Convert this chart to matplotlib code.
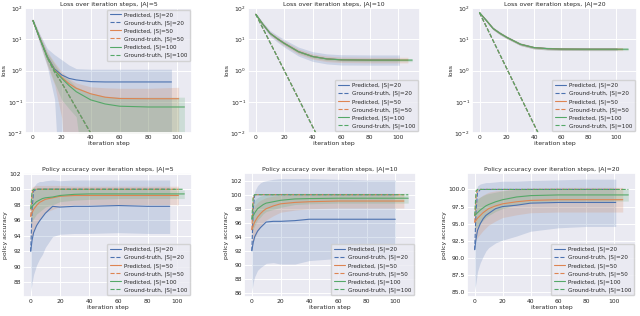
import numpy as np
import matplotlib
matplotlib.use('Agg')
import matplotlib.pyplot as plt
from matplotlib.ticker import MultipleLocator
import seaborn as sns

# ---- loss panels ----
sizes = ["20", "50", "100"]
actions = ["5", "10", "20"]

# |A|=5
loss5_x = {"20": [0, 5, 10, 15, 20, 25, 30, 40, 50, 60, 80, 96],
           "50": [0, 5, 10, 15, 20, 25, 30, 40, 50, 60, 80, 101],
           "100": [0, 5, 10, 15, 20, 25, 30, 40, 50, 60, 80, 105]}
loss5_mean = {"20": [40, 10, 2.8, 1.12, 0.72, 0.56, 0.5, 0.44, 0.43, 0.43, 0.43, 0.43],
              "50": [40, 10, 2.7, 1.05, 0.6, 0.38, 0.27, 0.18, 0.14, 0.127, 0.125, 0.125],
              "100": [40, 10, 2.6, 1.0, 0.56, 0.33, 0.21, 0.115, 0.085, 0.072, 0.068, 0.068]}
loss5_hi = {"20": [45, 14, 5, 3.2, 2.2, 1.5, 1.15, 1.1, 1.1, 1.1, 1.1, 1.1],
            "50": [45, 13, 4, 1.8, 0.9, 0.55, 0.4, 0.3, 0.28, 0.27, 0.27, 0.29],
            "100": [44, 12, 3.6, 1.6, 0.72, 0.5, 0.3, 0.19, 0.15, 0.14, 0.14, 0.14]}
loss5_lo = {"20": [35, 6.5, 1.3, 0.12, 1e-5, 1e-5, 1e-5, 1e-5, 1e-5, 1e-5, 1e-5, 1e-5],
            "50": [35, 7, 1.4, 0.35, 0.03, 1e-5, 1e-5, 1e-5, 1e-5, 1e-5, 1e-5, 1e-5],
            "100": [36, 8, 1.6, 0.4, 0.115, 0.06, 0.033, 1e-5, 1e-5, 1e-5, 1e-5, 1e-5]}
gt5_x = [0, 5, 10, 15, 20, 30, 40, 50]
gt5 = [40, 10, 2.6, 0.9, 0.4, 0.063, 0.01, 0.0016]

# |A|=10
loss10_x = {"20": [0, 5, 10, 15, 20, 30, 40, 50, 60, 80, 101],
            "50": [0, 5, 10, 15, 20, 30, 40, 50, 60, 80, 107],
            "100": [0, 5, 10, 15, 20, 30, 40, 50, 60, 80, 110]}
loss10_mean = [63, 30, 15.5, 10.5, 7.4, 4.0, 2.8, 2.35, 2.2, 2.15, 2.15]
loss10_hi = {"20": [66, 35, 19, 13.5, 9.8, 5.6, 4.0, 3.4, 3.2, 3.15, 3.15],
             "50": [65, 33, 17.5, 12.3, 8.8, 4.9, 3.4, 2.9, 2.7, 2.65, 2.65],
             "100": [64, 31.5, 16.6, 11.5, 8.1, 4.45, 3.1, 2.6, 2.45, 2.4, 2.4]}
loss10_lo = {"20": [60, 25.5, 12.5, 8.2, 5.6, 2.9, 1.95, 1.62, 1.5, 1.48, 1.48],
             "50": [61, 27, 13.5, 9.0, 6.2, 3.3, 2.3, 1.92, 1.8, 1.75, 1.75],
             "100": [62, 28.5, 14.3, 9.6, 6.7, 3.6, 2.5, 2.1, 1.97, 1.92, 1.92]}
gt10_x = [0, 10, 20, 30, 40, 50]
gt10 = [63, 7.9, 1.0, 0.126, 0.0158, 0.002]

# |A|=20
loss20_x = {"20": [0, 5, 10, 15, 20, 30, 40, 50, 60, 80, 101],
            "50": [0, 5, 10, 15, 20, 30, 40, 50, 60, 80, 105],
            "100": [0, 5, 10, 15, 20, 30, 40, 50, 60, 80, 109]}
loss20_mean = [71, 40, 22, 15.5, 11.5, 6.9, 5.4, 5.0, 4.85, 4.8, 4.8]
loss20_hi = [74, 43, 24, 17, 12.6, 7.6, 5.9, 5.5, 5.3, 5.25, 5.25]
loss20_lo = [68, 37, 20, 14, 10.5, 6.3, 4.9, 4.55, 4.4, 4.35, 4.35]
gt20_x = [0, 10, 20, 30, 40, 50]
gt20 = [71, 9.0, 1.15, 0.146, 0.0186, 0.0024]

# ---- accuracy panels ----
acc_grid = [0, 1, 2, 4, 6, 8, 10, 15, 20, 30, 40, 60, 80]
acc_end = {"5": {"20": 95, "50": 101, "100": 105},
           "10": {"20": 100, "50": 106, "100": 109},
           "20": {"20": 101, "50": 106, "100": 110}}
acc_mean = {
    "5": {"20": [92, 93.5, 94.4, 95.3, 95.9, 96.4, 96.9, 97.8, 97.7, 97.8, 97.8, 97.9, 97.8, 97.8],
          "50": [96.5, 97, 97.4, 97.9, 98.3, 98.5, 98.7, 98.9, 99.1, 99.2, 99.2, 99.2, 99.2, 99.2],
          "100": [97.5, 97.8, 98.0, 98.4, 98.6, 98.8, 98.9, 99.0, 99.2, 99.35, 99.4, 99.4, 99.4, 99.4]},
    "10": {"20": [92, 93.2, 94, 94.8, 95.3, 95.7, 96.1, 96.2, 96.2, 96.3, 96.5, 96.5, 96.5, 96.5],
           "50": [95, 95.6, 96.1, 96.8, 97.3, 97.7, 98.0, 98.4, 98.7, 98.9, 99.0, 99.1, 99.1, 99.1],
           "100": [96.5, 97, 97.4, 98, 98.3, 98.6, 98.8, 99.0, 99.2, 99.4, 99.45, 99.5, 99.5, 99.5]},
    "20": {"20": [91.2, 92.8, 94, 95, 95.7, 96.2, 96.5, 97.2, 97.5, 97.7, 98.0, 98.1, 98.1, 98.1],
           "50": [95.2, 95.5, 95.8, 96.2, 96.6, 96.9, 97.2, 97.6, 97.9, 98.2, 98.4, 98.5, 98.5, 98.5],
           "100": [96.2, 96.4, 96.6, 97, 97.3, 97.6, 97.8, 98.2, 98.5, 98.9, 99.1, 99.2, 99.2, 99.2]}}
acc_hi = {
    "5": {"20": [97.5, 99, 100.3, 100.8, 101, 101, 101.1, 101.2, 101.1, 101.2, 101.2, 101.2, 101.2, 101.2],
          "50": [100, 100.3, 100.4, 100.5, 100.5, 100.5, 100.5, 100.5, 100.5, 100.4, 100.4, 100.4, 100.4, 100.4],
          "100": [99.5, 99.8, 100, 100.1, 100.2, 100.2, 100.2, 100.2, 100.2, 100.1, 100, 100, 100, 99.9]},
    "10": {"20": [97.5, 99.5, 100.5, 101.3, 101.7, 101.9, 102, 102.2, 102.3, 102.3, 102.3, 102.2, 102.1, 102.1],
           "50": [97.5, 98.0, 98.4, 98.9, 99.2, 99.4, 99.6, 99.8, 99.9, 100, 100, 100.1, 100.1, 100.1],
           "100": [98.5, 98.9, 99.2, 99.6, 99.8, 99.9, 100, 100.1, 100.2, 100.2, 100.2, 100.2, 100.2, 100.2]},
    "20": {"20": [97, 99.5, 100.5, 100.8, 100.9, 101, 101, 101.1, 101.2, 101.2, 101.3, 101.4, 101.5, 101.5],
           "50": [98, 98.3, 98.6, 98.9, 99.2, 99.4, 99.6, 99.8, 99.9, 100.1, 100.2, 100.3, 100.3, 100.3],
           "100": [98.2, 98.4, 98.6, 98.9, 99.1, 99.3, 99.4, 99.6, 99.8, 100, 100.1, 100.1, 100.1, 100.1]}}
acc_lo = {
    "5": {"20": [86.8, 88, 89, 90.2, 91, 91.6, 92.5, 93.9, 94.2, 94.3, 94.3, 94.4, 94.3, 94.3],
          "50": [93, 93.8, 94.5, 95.4, 96.1, 96.6, 97, 97.4, 97.8, 98, 98, 98, 98, 98],
          "100": [95.5, 95.9, 96.2, 96.8, 97.1, 97.4, 97.7, 98.0, 98.4, 98.6, 98.7, 98.8, 98.8, 98.8]},
    "10": {"20": [86.2, 87.5, 88.3, 89.2, 89.6, 89.9, 90.2, 90.3, 90.1, 90.1, 90.6, 90.9, 91, 91],
           "50": [92.5, 93.2, 93.8, 94.7, 95.4, 96, 96.4, 97, 97.5, 97.8, 98, 98.1, 98.1, 98.1],
           "100": [94.5, 95.1, 95.6, 96.4, 96.8, 97.3, 97.6, 97.9, 98.2, 98.6, 98.7, 98.8, 98.8, 98.8]},
    "20": {"20": [85.3, 86.5, 88, 89.3, 90.2, 91, 91.5, 92.2, 92.6, 93.2, 93.9, 94.4, 94.6, 94.6],
           "50": [92.4, 92.7, 93, 93.5, 94, 94.4, 94.8, 95.4, 95.9, 96.3, 96.6, 96.7, 96.7, 96.7],
           "100": [94.2, 94.4, 94.6, 95.1, 95.5, 95.9, 96.2, 96.8, 97.2, 97.8, 98.1, 98.3, 98.3, 98.3]}}
gt_acc_x = [0, 1, 2, 4]
gt_acc = {"5": {"20": [92, 97.5, 99.8, 100], "50": [96.5, 99.5, 100, 100], "100": [97.5, 99.8, 100, 100]},
          "10": {"20": [92, 98, 100, 100], "50": [95, 99.5, 100, 100], "100": [96.5, 99.8, 100, 100]},
          "20": {"20": [91.2, 97, 99.5, 100], "50": [95.2, 99, 100, 100], "100": [96.2, 99.8, 100, 100]}}
acc_ylim = {"5": (86.1, 102.1), "10": (85.4, 103.1), "20": (84.3, 102.4)}
acc_ystep = {"5": 2, "10": 2, "20": 2.5}

sns.set_theme(style="darkgrid")
plt.rcParams['font.family'] = ['DejaVu Sans']
colors = {"20": "C0", "50": "C1", "100": "C2"}

fig = plt.figure(figsize=(6.4, 3.16), dpi=100)
W, H = 640, 316


def box(l, t, r, b):
    return fig.add_axes([l / W, (H - b) / H, (r - l) / W, (b - t) / H])


def style(ax, title, ylabel):
    ax.set_title(title, fontsize=4.4, pad=2)
    ax.set_xlabel("iteration step", fontsize=4.4, labelpad=1)
    ax.set_ylabel(ylabel, fontsize=4.4, labelpad=1)
    ax.tick_params(labelsize=4.3, pad=1.5, length=0)
    ax.grid(True, color='white', linewidth=0.7)
    ax.set_xticks([0, 20, 40, 60, 80, 100])


def legend(ax, loc):
    ax.legend(loc=loc, fontsize=4.1, labelspacing=0.45, handlelength=2.0,
              borderpad=0.45, handletextpad=0.6, frameon=True, facecolor='#eaeaf2',
              edgecolor='#cccccc', borderaxespad=0.3)


loss_boxes = [(25, 8, 192, 133), (248, 8, 420, 133), (472, 8, 637, 133)]
acc_boxes = [(23, 173, 192, 297), (244, 173, 416, 297), (467, 173, 636, 297)]

# loss row
for i, a in enumerate(actions):
    ax = box(*loss_boxes[i])
    ax.set_yscale('log')
    for s in sizes:
        c = colors[s]
        if a == "5":
            x, m, hi, lo = loss5_x[s], loss5_mean[s], loss5_hi[s], loss5_lo[s]
            gx, gy = gt5_x, gt5
        elif a == "10":
            x, m, hi, lo = loss10_x[s], loss10_mean, loss10_hi[s], loss10_lo[s]
            gx, gy = gt10_x, gt10
        else:
            x, m, hi, lo = loss20_x[s], loss20_mean, loss20_hi, loss20_lo
            gx, gy = gt20_x, gt20
        ax.fill_between(x, lo, hi, color=c, alpha=0.2, linewidth=0)
        ax.plot(x, m, color=c, lw=0.8, label=f"Predicted, |S|={s}")
        ax.plot(gx, gy, color=c, lw=0.8, ls='--', label=f"Ground-truth, |S|={s}")
    ax.set_ylim(1e-2, 1e2)
    ax.set_xlim(-5.5, 115.5 if a != "5" else 110.25)
    style(ax, f"Loss over iteration steps, |A|={a}", "loss")
    legend(ax, 'upper right' if a == "5" else 'lower right')

# accuracy row
for i, a in enumerate(actions):
    ax = box(*acc_boxes[i])
    for s in sizes:
        c = colors[s]
        x = acc_grid + [acc_end[a][s]]
        ax.fill_between(x, acc_lo[a][s], acc_hi[a][s], color=c, alpha=0.2, linewidth=0)
        ax.plot(x, acc_mean[a][s], color=c, lw=0.8, label=f"Predicted, |S|={s}")
        gx = gt_acc_x + [acc_end[a][s]]
        gy = gt_acc[a][s] + [100]
        ax.plot(gx, gy, color=c, lw=0.8, ls='--', label=f"Ground-truth, |S|={s}")
    ax.set_ylim(*acc_ylim[a])
    ax.yaxis.set_major_locator(MultipleLocator(acc_ystep[a]))
    if a == "20":
        ax.yaxis.set_major_formatter('{x:.1f}')
    style(ax, f"Policy accuracy over iteration steps, |A|={a}", "policy accuracy")
    legend(ax, 'lower right')

fig.savefig("out.png", dpi=100)
